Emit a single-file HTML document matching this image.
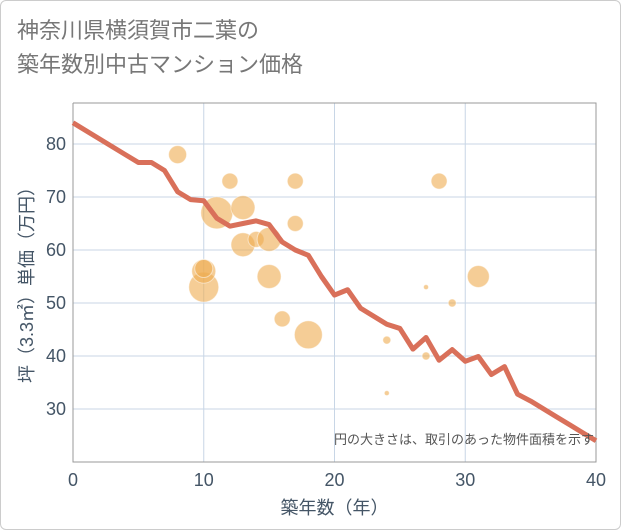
<!DOCTYPE html>
<html><head><meta charset="utf-8"><style>
body{margin:0;background:#fff;font-family:"Liberation Sans","Noto Sans CJK JP",sans-serif;}
#frame{position:absolute;left:0;top:0;width:619px;height:528px;border:1px solid #ccc;border-radius:6px;}
#title{position:absolute;left:17px;top:14px;font-size:22px;line-height:34px;color:#777;}
</style></head><body>
<div id="frame"></div>
<div id="title">神奈川県横須賀市二葉の<br>築年数別中古マンション価格</div>
<svg id="chart" width="621" height="530" style="position:absolute;left:0;top:0"></svg>
<script>
const xTicks=[0,10,20,30,40];
const yTicks=[30,40,50,60,70,80];
const lineX=[0,5,6,7,8,9,10,11,12,13,14,15,16,17,18,19,20,21,22,23,24,25,26,27,28,29,30,31,32,33,34,35,36,37,38,39,40];
const lineY=[84,76.5,76.5,75,71,69.5,69.3,66,64.5,65,65.5,64.8,61.5,60,59,55,51.5,52.5,49,47.5,46,45.2,41.3,43.5,39.2,41.2,39,39.9,36.5,38,32.8,31.5,30,28.5,27,25.5,24];
const bubX=[8,10,10,10,11,12,13,13,14,15,15,16,17,17,18,24,24,27,27,28,29,31];
const bubY=[78,53,56,56.5,67,73,68,61,62,62,55,47,73,65,44,43,33,53,40,73,50,55];
const bubR=[9,15,12,9,16,8,12,12,8,12,12,8,8,8,14,4,2.5,2.5,4,8,4,11];
const ns="http://www.w3.org/2000/svg",svg=document.getElementById('chart');
const L=73,R=596,T=103,B=462;
const xs=v=>L+(v-0)*(R-L)/40, ys=v=>144+(80-v)*5.3;
function el(t,a,p){const e=document.createElementNS(ns,t);for(const k in a)e.setAttribute(k,a[k]);(p||svg).appendChild(e);return e;}
const bg=el('rect',{x:L,y:T,width:R-L,height:B-T,fill:'#fff'});


yTicks.forEach(v=>{const g=el('line',{x1:L,x2:R,y1:ys(v),y2:ys(v),stroke:'#c8d6e6','stroke-width':1});


const t=el('text',{x:L-7,y:ys(v)+6,'text-anchor':'end','font-size':18,fill:'#445566'});t.textContent=v;

});
xTicks.forEach(v=>{const g=el('line',{x1:xs(v),x2:xs(v),y1:T,y2:B,stroke:'#c8d6e6','stroke-width':1});


const t=el('text',{x:xs(v),y:B+24,'text-anchor':'middle','font-size':18,fill:'#445566'});t.textContent=v;

});
const ax=el('path',{d:`M${L},${T}V${B}H${R}V${T}H${L}`,fill:'none',stroke:'#999','stroke-width':1});


bubX.forEach((x,i)=>{const c=el('circle',{cx:xs(x),cy:ys(bubY[i]),r:bubR[i],fill:'rgba(238,172,80,0.6)',stroke:'rgba(255,255,255,0.5)','stroke-width':1});

});
const p=el('polyline',{points:lineX.map((x,i)=>xs(x)+','+ys(lineY[i])).join(' '),fill:'none',stroke:'#d9705a','stroke-width':5,'stroke-linejoin':'round'});


const n=el('text',{x:594,y:444,'text-anchor':'end','font-size':13,fill:'#555'});n.textContent='円の大きさは、取引のあった物件面積を示す';


const xt=el('text',{x:(L+R)/2,y:514,'text-anchor':'middle','font-size':18,fill:'#445566'});xt.textContent='築年数（年）';


const yt=el('text',{x:0,y:0,'text-anchor':'middle','font-size':18,fill:'#445566',transform:`translate(33,${(T+B)/2-2}) rotate(-90)`});yt.textContent='坪（3.3㎡）単価（万円）';


</script>
</body></html>
